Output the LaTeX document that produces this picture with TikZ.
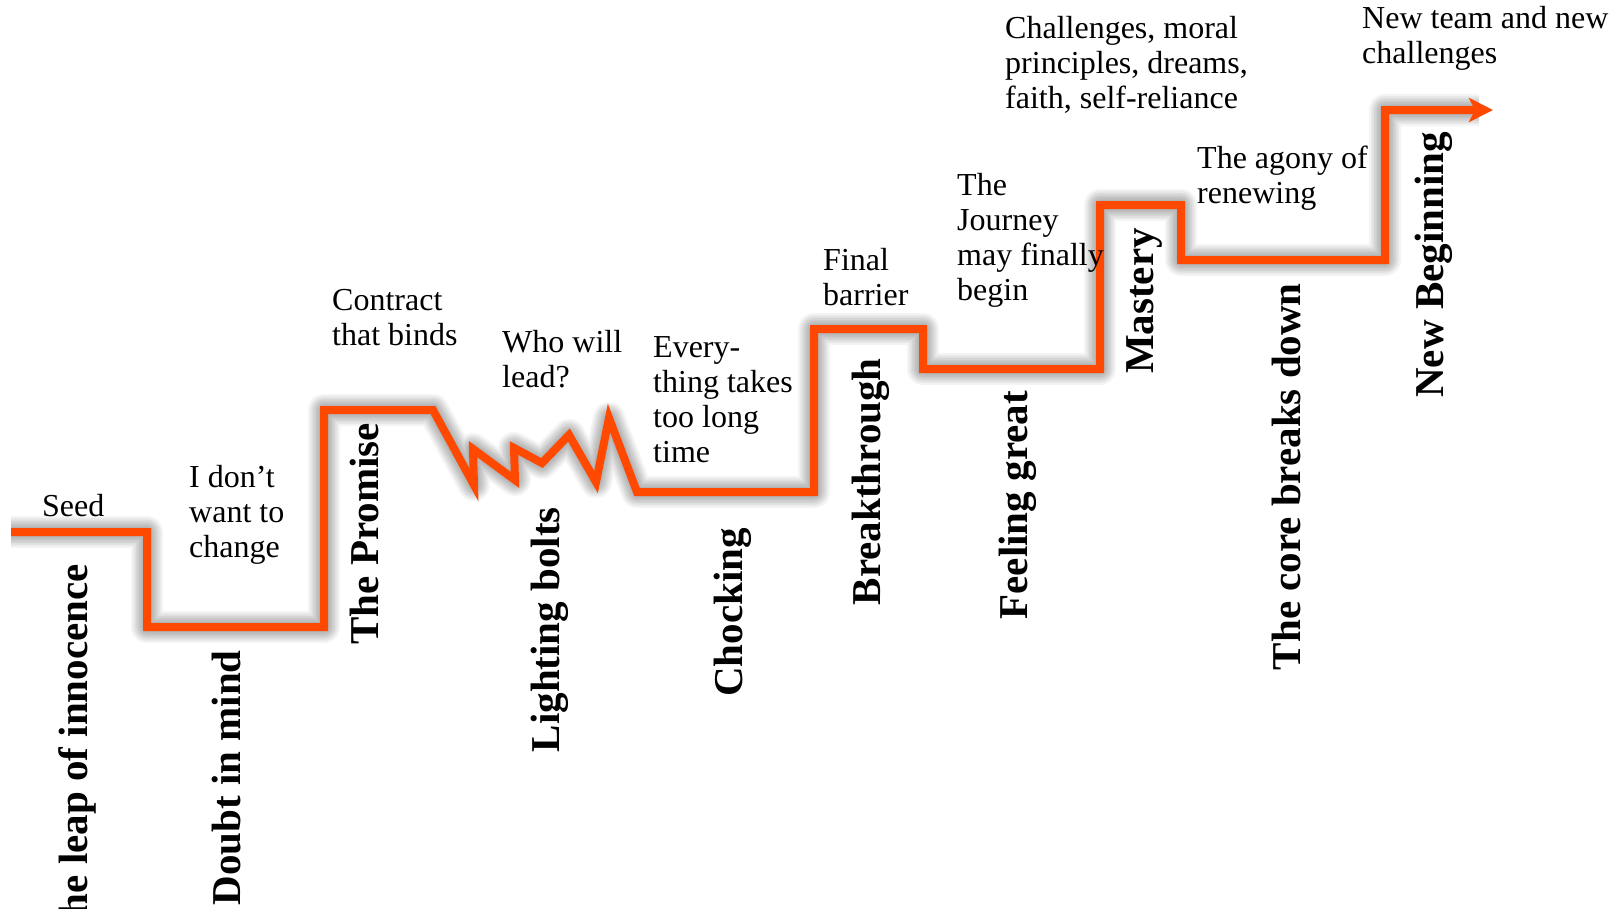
\documentclass[tikz,border=0pt]{standalone}
\usepackage{fontspec}
\setmainfont{Liberation Serif}
\usetikzlibrary{arrows.meta}
\definecolor{stepline}{RGB}{255,72,0}
\begin{document}
\begin{tikzpicture}[x=1pt,y=-1pt,
  lbl/.style={anchor=north west, inner sep=0pt, align=left, font=\fontsize{32}{35}\selectfont},
  vlbl/.style={anchor=base east, inner sep=0pt, rotate=90, font=\bfseries\fontsize{41}{45}\selectfont},
  journey/.style={line width=8pt, draw=stepline, line join=miter, line cap=butt},
  shade/.style={line width=#1, draw=black, opacity=0.045, line join=round}]
\useasboundingbox (0,0) rectangle (1624,908);
\clip (0,0) rectangle (1624,908);

% path corner coordinates
\coordinate (a) at (11,532);
\coordinate (b) at (147,532);
\coordinate (c) at (147,627);
\coordinate (d) at (324,627);
\coordinate (e) at (324,410);
\coordinate (f) at (433,410);
\coordinate (g) at (474,485);
\coordinate (h) at (473,449);
\coordinate (i) at (515,480);
\coordinate (j) at (514,448);
\coordinate (k) at (542,463);
\coordinate (l) at (569,435);
\coordinate (m) at (596,482);
\coordinate (n) at (609,418);
\coordinate (o) at (637,492);
\coordinate (p) at (814,492);
\coordinate (q) at (814,329);
\coordinate (r) at (923,329);
\coordinate (s) at (923,369);
\coordinate (t) at (1100,369);
\coordinate (u) at (1100,205);
\coordinate (v) at (1181,205);
\coordinate (w) at (1181,260);
\coordinate (x) at (1385,260);
\coordinate (y) at (1385,110);
\coordinate (z) at (1493,110);
\coordinate (zs) at (1479,110);

% soft shadow
\begin{scope}[shift={(2,5)}]
\foreach \w in {10,13,16,19,22,25,28,32}
  \draw[shade=\w pt] (a) -- (b) -- (c) -- (d) -- (e) -- (f) -- (g) -- (h) -- (i) -- (j) -- (k) -- (l) -- (m)
    -- (n) -- (o) -- (p) -- (q) -- (r) -- (s) -- (t) -- (u) -- (v) -- (w) -- (x) -- (y) -- (zs);
\end{scope}

% main line
\draw[journey, -{Stealth[length=24pt,width=24pt,inset=6pt]}]
  (a) -- (b) -- (c) -- (d) -- (e) -- (f) -- (g) -- (h) -- (i) -- (j) -- (k) -- (l) -- (m)
  -- (n) -- (o) -- (p) -- (q) -- (r) -- (s) -- (t) -- (u) -- (v) -- (w) -- (x) -- (y) -- (z);

% upper labels
\node[lbl] (seed) at (42,494) {Seed};
\node[lbl] (dont) at (189,465) {I don’t\\want to\\change};
\node[lbl] (contract) at (332,289) {Contract\\that binds};
\node[lbl] (who) at (502,330) {Who will\\lead?};
\node[lbl] (every) at (653,336) {Every-\\thing takes\\too long\\time};
\node[lbl] (final) at (823,248) {Final\\barrier};
\node[lbl] (journ) at (957,173) {The\\Journey\\may finally\\begin};
\node[lbl] (chall) at (1005,16) {Challenges, moral\\principles, dreams,\\faith, self-reliance};
\node[lbl] (agony) at (1197,146) {The agony of\\renewing};
\node[lbl] (newteam) at (1362,6) {New team and new\\challenges};

% vertical labels
\node[vlbl] (leap) at (87,564) {The leap of innocence};
\node[vlbl] (doubt) at (240,650) {Doubt in mind};
\node[vlbl] (promise) at (378,423) {The Promise};
\node[vlbl] (bolts) at (559,507) {Lighting bolts};
\node[vlbl] (chock) at (742,528) {Chocking};
\node[vlbl] (break) at (880,358) {Breakthrough};
\node[vlbl] (feel) at (1027,391) {Feeling great};
\node[vlbl] (mast) at (1153,228) {Mastery};
\node[vlbl] (core) at (1300,283) {The core breaks down};
\node[vlbl] (newb) at (1443,132) {New Beginning};
\end{tikzpicture}
\end{document}
